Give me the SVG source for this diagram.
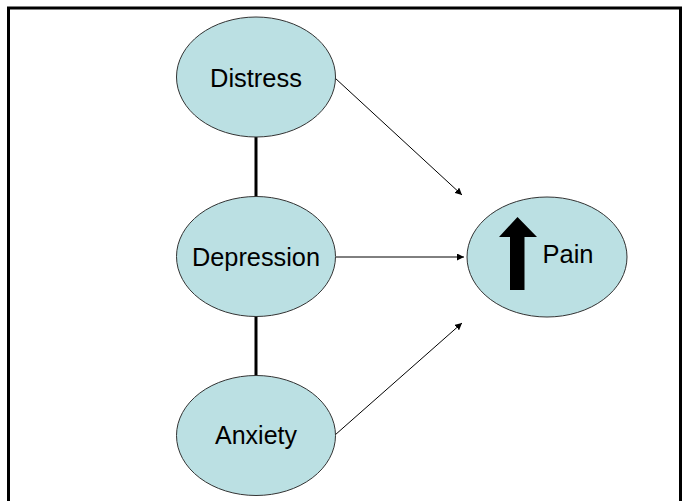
<svg xmlns="http://www.w3.org/2000/svg" width="685" height="501" viewBox="0 0 685 501">
<defs>
<style>
.node ellipse{fill:#BBE0E3;stroke:#333;stroke-width:1}
.node text{font-family:"Liberation Sans",Arial,sans-serif;font-size:25px;fill:#000;text-anchor:middle}
.link{stroke:#000;stroke-width:1;fill:none}
.thick{stroke:#000;stroke-width:3;fill:none}
</style>
<marker id="ah" viewBox="0 0 10 10" refX="10" refY="5" markerWidth="7" markerHeight="7" markerUnits="userSpaceOnUse" orient="auto">
<path d="M0,0 L10,5 L0,10 z" fill="#000"/>
</marker>
</defs>
<rect x="0" y="0" width="685" height="501" fill="#fff"/>
<rect x="8.5" y="8" width="672" height="500" fill="none" stroke="#000" stroke-width="3"/>
<g id="connectors">
<line class="thick" x1="256" y1="137" x2="256" y2="197"/>
<line class="thick" x1="256" y1="316" x2="256" y2="376"/>
<line class="link" x1="335" y1="78" x2="462" y2="195" marker-end="url(#ah)"/>
<line class="link" x1="336" y1="257" x2="464" y2="257" marker-end="url(#ah)"/>
<line class="link" x1="335" y1="435" x2="462" y2="323" marker-end="url(#ah)"/>
</g>
<g id="distress" class="node">
<ellipse cx="256" cy="77" rx="79.5" ry="60"/>
<text x="256" y="87" textLength="92" lengthAdjust="spacingAndGlyphs">Distress</text>
</g>
<g id="depression" class="node">
<ellipse cx="256" cy="256.5" rx="79.5" ry="60"/>
<text x="256" y="266" textLength="128" lengthAdjust="spacingAndGlyphs">Depression</text>
</g>
<g id="anxiety" class="node">
<ellipse cx="256" cy="435.5" rx="79.5" ry="60"/>
<text x="256" y="444" textLength="82" lengthAdjust="spacingAndGlyphs">Anxiety</text>
</g>
<g id="pain" class="node">
<ellipse cx="547" cy="257" rx="80" ry="60"/>
<polygon points="517.5,217 537,237 524.5,237 524.5,290 510,290 510,237 499,237" fill="#000"/>
<text x="568" y="263" textLength="51" lengthAdjust="spacingAndGlyphs">Pain</text>
</g>
</svg>
